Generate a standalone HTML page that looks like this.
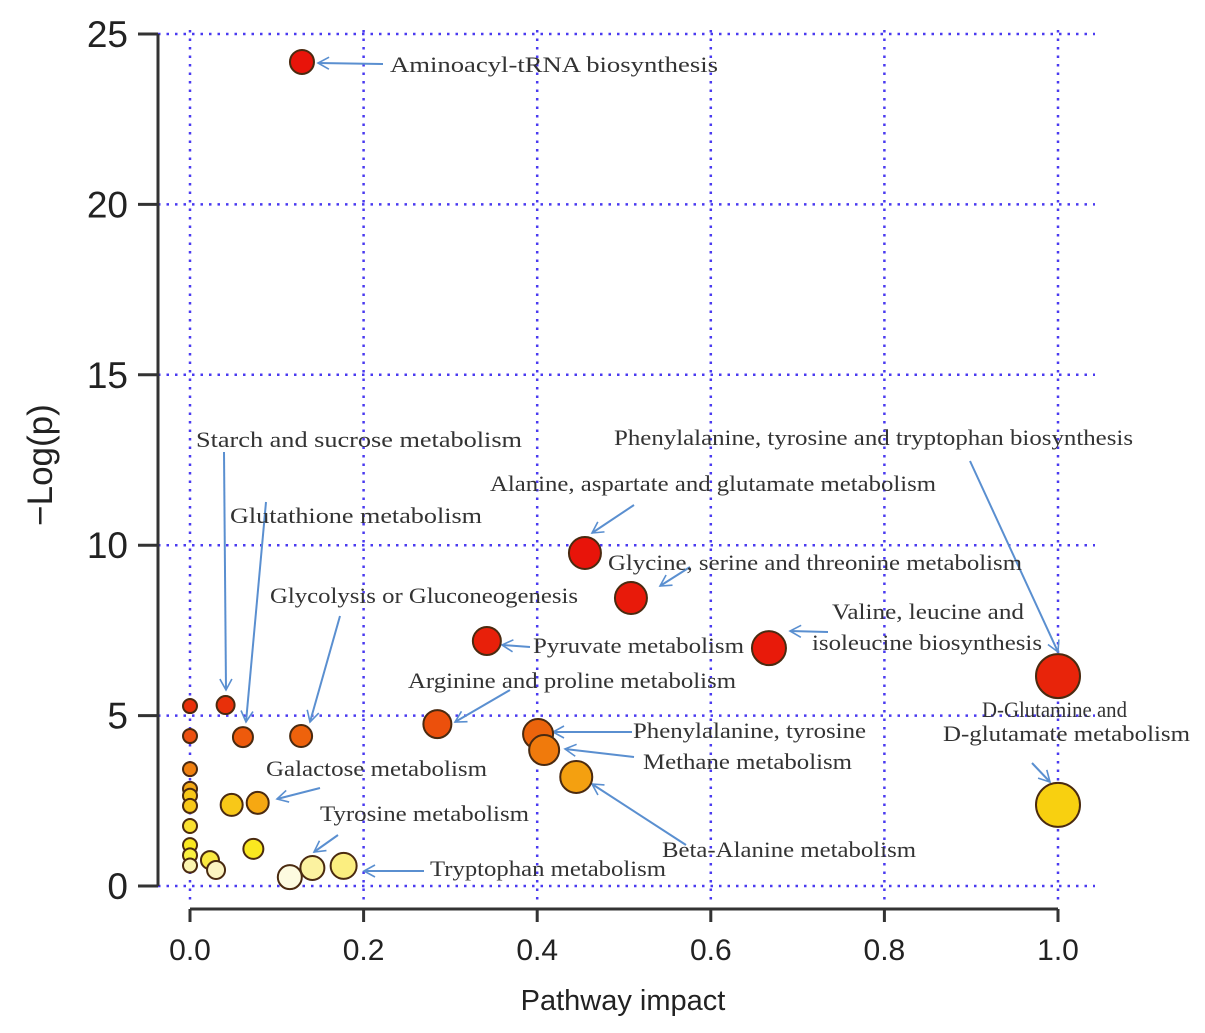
<!DOCTYPE html>
<html><head><meta charset="utf-8"><style>
html,body{margin:0;padding:0;background:#fff;}
svg{display:block;}
.lab{font-family:"Liberation Serif",serif;font-size:22px;fill:#333;}
.tick{font-family:"Liberation Sans",sans-serif;font-size:28px;fill:#222;}
</style></head><body>
<svg id="chart" width="1205" height="1033" viewBox="0 0 1205 1033" xmlns="http://www.w3.org/2000/svg">
<defs><marker id="ah" markerWidth="14" markerHeight="14" refX="12" refY="7" orient="auto" markerUnits="userSpaceOnUse"><path d="M1,1 L12,7 L1,13" fill="none" stroke="#5a8fd0" stroke-width="1.6"/></marker></defs>
<g id="grid"></g><g id="axes"></g><g id="arrows"></g><g id="pts"></g><g id="labels"></g>
</svg>
<script>
const impact = [0.129,0.041,0.061,0.128,0.285,0.342,0.455,0.508,0.667,1.0,1.0,0.401,0.408,0.445,0.078,0.048,0.073,0.141,0.177,0.115,0.023,0.030,0,0,0,0,0,0,0,0,0,0];
const logp = [24.18,5.31,4.37,4.40,4.75,7.19,9.77,8.45,6.98,6.16,2.38,4.46,3.99,3.20,2.44,2.38,1.09,0.53,0.59,0.26,0.76,0.47,5.28,4.40,3.43,2.85,2.65,2.35,1.76,1.20,0.90,0.60];
const radius = [12,9,10,11,14,14,16,16,17,22,22,15,15,16,11,11,10,12,13,12,9,9,7,7,7,7,7,7,7,7,7,7];
const fills = ["#e8140a","#e8300a","#ee5a0c","#ee620c","#ec500c","#e8200a","#e8140a","#e81a0a","#e81a0a","#e8240a","#f8d010","#ec640c","#f07a0c","#f4a010","#f6a812","#f8c818","#fae820","#fbf2a0","#fbee80","#fdfbe0","#fae840","#fcf4c0","#e8300a","#ec5010","#f08010","#f4a814","#f8c818","#f8c818","#fae030","#fae820","#faf040","#fcf4b0"];
const xTicks = [0,0.2,0.4,0.6,0.8,1.0];
const xTickLabels = ["0.0","0.2","0.4","0.6","0.8","1.0"];
const yTicks = [0,5,10,15,20,25];
const yTickLabels = ["0","5","10","15","20","25"];
const X = v => 190 + v*868;
const Y = v => 886 - v*34.08;
const NS="http://www.w3.org/2000/svg";
function mk(tag, parent, attrs){const e=document.createElementNS(NS,tag);for(const k in attrs)e.setAttribute(k,attrs[k]);parent.appendChild(e);return e;}
const grid=document.getElementById('grid'), axes=document.getElementById('axes');
xTicks.forEach((t,i)=>{
  const l=mk('line',grid,{x1:X(t),x2:X(t),y1:30,y2:900,stroke:'#4a3af0','stroke-width':2.5,'stroke-dasharray':'2.5 6'});
  
  
  const tk=mk('line',axes,{x1:X(t),x2:X(t),y1:909,y2:922,stroke:'#333','stroke-width':3});
  
  
  const tx=mk('text',axes,{x:X(t),y:960,'text-anchor':'middle',class:'tick',style:'font-size:30px'});
  tx.textContent=xTickLabels[i];
  
  
});
yTicks.forEach((t,i)=>{
  const l=mk('line',grid,{x1:158,x2:1095,y1:Y(t),y2:Y(t),stroke:'#4a3af0','stroke-width':2.5,'stroke-dasharray':'2.5 6'});
  
  
  const tk=mk('line',axes,{x1:138,x2:158,y1:Y(t),y2:Y(t),stroke:'#333','stroke-width':3});
  
  
  const tx=mk('text',axes,{x:128,y:Y(t)+13,'text-anchor':'end',class:'tick',style:'font-size:37px'});
  tx.textContent=yTickLabels[i];
  
  
});
let a=mk('line',axes,{x1:158,x2:158,y1:Y(25),y2:Y(0),stroke:'#333','stroke-width':3});


a=mk('line',axes,{x1:X(0),x2:X(1),y1:909,y2:909,stroke:'#333','stroke-width':3});


let t=mk('text',axes,{x:623,y:1010,'text-anchor':'middle',class:'tick',style:'font-size:29px'});
t.textContent='Pathway impact';


t=mk('text',axes,{x:0,y:0,'text-anchor':'middle',class:'tick',transform:'translate(52,465) rotate(-90)',style:'font-size:35px'});
t.textContent='\u2212Log(p)';


const pts=document.getElementById('pts');
impact.forEach((v,i)=>{
  const c=mk('circle',pts,{cx:X(v),cy:Y(logp[i]),r:radius[i],fill:fills[i],stroke:'#4a2a10','stroke-width':2});
  
  
});
// annotations: [text, x, y, width]
const labelsArr=[
 ["Aminoacyl-tRNA biosynthesis",390,72,328],
 ["Starch and sucrose metabolism",196,447,326],
 ["Glutathione metabolism",230,523,252],
 ["Glycolysis or Gluconeogenesis",270,603,308],
 ["Alanine, aspartate and glutamate metabolism",490,491,446],
 ["Phenylalanine, tyrosine and tryptophan biosynthesis",614,445,519],
 ["Glycine, serine and threonine metabolism",608,570,414],
 ["Valine, leucine and",832,619,192],
 ["isoleucine biosynthesis",812,650,230],
 ["Pyruvate metabolism",533,653,211],
 ["Arginine and proline metabolism",408,688,328],
 ["Phenylalanine, tyrosine",633,738,233],
 ["Methane metabolism",643,769,209],
 ["D-Glutamine and",982,717,145],
 ["D-glutamate metabolism",943,741,247],
 ["Galactose metabolism",266,776,221],
 ["Tyrosine metabolism",320,821,209],
 ["Beta-Alanine metabolism",662,857,254],
 ["Tryptophan metabolism",430,876,236]
];
const lg=document.getElementById('labels');
labelsArr.forEach(l=>{
  const e=mk('text',lg,{x:l[1],y:l[2],class:'lab',textLength:l[3],lengthAdjust:'spacingAndGlyphs'});
  e.textContent=l[0];
  
  
});
const arrowsArr=[[383,64,318,63],[224,452,226,690],[266,502,246,722],[340,616,310,722],[634,505,592,533],[970,461,1058,652],[690,567,660,586],[828,632,790,631],[530,647,502,645],[510,690,455,722],[632,732,553,732],[634,757,565,749],[686,845,592,784],[1032,763,1050,782],[320,788,277,799],[338,835,314,852],[424,871,364,871]];
const ag=document.getElementById('arrows');
arrowsArr.forEach(p=>{
  const e=mk('line',ag,{x1:p[0],y1:p[1],x2:p[2],y2:p[3],stroke:'#5a8fd0','stroke-width':2,'marker-end':'url(#ah)'});
  
  
});
</script>
</body></html>
